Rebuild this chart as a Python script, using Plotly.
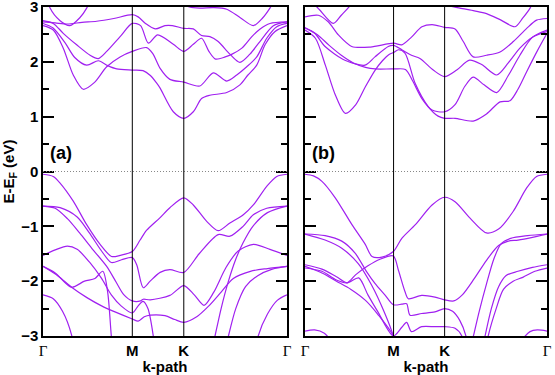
import plotly.graph_objects as go

# high-symmetry points along the path, as a fraction of the path length
k_points = [0.0, 0.366, 0.577, 1.0]
k_labels = ["Γ", "M", "K", "Γ"]

# panel (a) bands: (k, E - E_F) pairs
a_c1 = [(0, 2.66), (0.042, 2.58), (0.083, 2.25), (0.124, 1.76), (0.165, 1.50), (0.21, 1.62), (0.261, 1.91),
        (0.316, 2.09), (0.366, 2.19), (0.425, 2.26), (0.45, 2.15), (0.48, 1.88), (0.52, 1.68), (0.577, 1.63),
        (0.643, 1.56), (0.698, 1.80), (0.753, 1.65), (0.794, 1.76), (0.835, 1.91), (0.876, 2.09), (0.917, 2.43),
        (0.958, 2.64), (1.0, 2.70)]
a_c2 = [(0, 2.70), (0.04, 2.62), (0.09, 2.35), (0.13, 2.08), (0.179, 1.94), (0.227, 2.02), (0.265, 1.93),
        (0.302, 1.87), (0.366, 1.85), (0.41, 1.84), (0.44, 1.75), (0.466, 1.61), (0.48, 1.52), (0.534, 1.09),
        (0.577, 0.97), (0.616, 1.09), (0.65, 1.33), (0.684, 1.39), (0.753, 1.44), (0.807, 1.58), (0.84, 1.76),
        (0.876, 1.94), (0.91, 2.31), (0.95, 2.55), (1.0, 2.66)]
a_c3 = [(0, 2.75), (0.042, 2.70), (0.083, 2.52), (0.138, 2.31), (0.193, 2.12), (0.227, 2.06), (0.261, 2.19),
        (0.316, 2.46), (0.366, 2.70), (0.40, 2.66), (0.432, 2.34), (0.47, 2.49), (0.534, 2.32), (0.577, 2.19),
        (0.616, 2.32), (0.65, 2.43), (0.68, 2.19), (0.707, 2.05), (0.747, 2.09), (0.775, 2.14), (0.815, 2.25),
        (0.856, 2.46), (0.89, 2.60), (0.93, 2.70), (1.0, 2.73)]
a_c4 = [(0, 2.73), (0.05, 2.71), (0.10, 2.69), (0.16, 2.72), (0.22, 2.74), (0.29, 2.79), (0.366, 2.86),
        (0.39, 2.82), (0.42, 2.70), (0.46, 2.60), (0.50, 2.66), (0.53, 2.66), (0.577, 2.61), (0.616, 2.60),
        (0.65, 2.48), (0.684, 2.46), (0.718, 2.37), (0.766, 2.14), (0.807, 1.99), (0.848, 2.14), (0.889, 2.37),
        (0.944, 2.66), (1.0, 2.73)]
a_c5 = [(0.0, 3.5), (0.029, 2.98), (0.07, 2.75), (0.11, 2.66), (0.15, 2.80), (0.179, 2.98), (0.21, 3.3)]
a_c6 = [(0.55, 3.1), (0.60, 3.0), (0.643, 2.98), (0.70, 2.99), (0.753, 2.96), (0.81, 2.80), (0.862, 2.66),
        (0.90, 2.80), (0.93, 2.98), (0.97, 3.3)]

a_v1 = [(0, -0.05), (0.042, -0.09), (0.07, -0.21), (0.124, -0.54), (0.179, -0.97), (0.234, -1.33),
        (0.281, -1.55), (0.316, -1.53), (0.366, -1.46), (0.398, -1.25), (0.425, -1.07), (0.48, -0.84),
        (0.52, -0.66), (0.577, -0.48), (0.616, -0.61), (0.671, -0.91), (0.718, -1.08), (0.766, -0.94),
        (0.821, -0.79), (0.862, -0.61), (0.917, -0.27), (0.958, -0.09), (1.0, -0.05)]
a_v2 = [(0, -0.63), (0.07, -0.66), (0.14, -0.83), (0.19, -1.12), (0.24, -1.45), (0.28, -1.66), (0.322, -1.61),
        (0.366, -1.57), (0.384, -1.70), (0.411, -2.12), (0.439, -2.0), (0.48, -1.84), (0.52, -1.79),
        (0.577, -1.84), (0.64, -1.50), (0.718, -1.15), (0.766, -1.18), (0.82, -1.0), (0.862, -0.79),
        (0.917, -0.67), (1.0, -0.63)]
a_v3 = [(0, -0.63), (0.05, -0.67), (0.10, -0.86), (0.15, -1.12), (0.20, -1.40), (0.261, -1.73), (0.30, -2.02),
        (0.33, -2.24), (0.366, -2.36), (0.40, -2.36), (0.411, -2.33), (0.44, -2.34), (0.52, -2.26),
        (0.577, -2.08), (0.62, -2.25), (0.66, -2.44), (0.70, -2.2), (0.75, -1.75), (0.80, -1.45),
        (0.862, -1.33), (0.93, -1.42), (1.0, -1.53)]
a_v4 = [(0, -1.53), (0.05, -1.43), (0.10, -1.36), (0.14, -1.42), (0.19, -1.65), (0.24, -1.95), (0.28, -2.25),
        (0.32, -2.45), (0.366, -2.58), (0.39, -2.45), (0.41, -2.37), (0.43, -2.5), (0.452, -3.0), (0.46, -3.3)]
a_v5 = [(0, -1.73), (0.05, -1.85), (0.117, -2.11), (0.17, -2.0), (0.213, -1.95), (0.245, -1.82),
        (0.265, -2.2), (0.28, -3.0), (0.29, -3.4)]
a_v6 = [(0, -1.73), (0.06, -1.9), (0.12, -2.12), (0.18, -2.3), (0.24, -2.45), (0.30, -2.57), (0.366, -2.69),
        (0.39, -2.73), (0.415, -2.65), (0.44, -2.62), (0.50, -2.63), (0.54, -2.70), (0.577, -2.75),
        (0.63, -2.65), (0.68, -2.45), (0.73, -2.2), (0.78, -1.95), (0.85, -1.82), (0.92, -1.77), (1.0, -1.73)]
a_v7 = [(0, -2.25), (0.042, -2.32), (0.08, -2.55), (0.117, -2.98), (0.125, -3.2)]
a_v8 = [(0.69, -3.3), (0.705, -3.0), (0.73, -2.5), (0.76, -2.0), (0.79, -1.6), (0.82, -1.3), (0.86, -1.0),
        (0.92, -0.75), (1.0, -0.63)]
a_v9 = [(0.745, -3.3), (0.76, -3.0), (0.79, -2.5), (0.83, -2.1), (0.88, -1.9), (0.94, -1.78), (1.0, -1.73)]
a_v10 = [(0.87, -3.3), (0.882, -3.0), (0.92, -2.6), (0.96, -2.35), (1.0, -2.25)]

# panel (b) bands
b_c1 = [(0, 2.58), (0.043, 2.43), (0.084, 1.94), (0.125, 1.40), (0.167, 1.06), (0.21, 1.22), (0.25, 1.55),
        (0.29, 1.85), (0.32, 2.02), (0.346, 2.13), (0.366, 2.17), (0.386, 2.22), (0.413, 2.16), (0.455, 1.61),
        (0.51, 1.18), (0.55, 1.01), (0.577, 0.97), (0.62, 0.97), (0.695, 0.92), (0.75, 1.05), (0.806, 1.27),
        (0.847, 1.29), (0.88, 1.5), (0.916, 1.82), (0.96, 2.2), (1.0, 2.52)]
b_c2 = [(0, 2.62), (0.05, 2.50), (0.10, 2.30), (0.15, 2.12), (0.20, 1.98), (0.25, 1.90), (0.29, 1.87),
        (0.366, 1.87), (0.415, 1.86), (0.445, 1.65), (0.483, 1.33), (0.525, 1.12), (0.577, 1.09), (0.62, 1.22),
        (0.66, 1.55), (0.695, 1.72), (0.74, 1.58), (0.792, 1.44), (0.84, 1.75), (0.888, 2.12), (0.94, 2.45),
        (1.0, 2.58)]
b_c3 = [(0, 2.82), (0.055, 2.85), (0.096, 2.73), (0.138, 2.49), (0.193, 2.28), (0.27, 2.27), (0.366, 2.34),
        (0.40, 2.31), (0.44, 2.45), (0.483, 2.64), (0.525, 2.68), (0.577, 2.63), (0.62, 2.60), (0.654, 2.37),
        (0.695, 2.09), (0.75, 2.12), (0.806, 2.18), (0.861, 2.37), (0.916, 2.61), (0.957, 2.76), (1.0, 2.79)]
b_c4 = [(0, 2.62), (0.04, 2.52), (0.083, 2.28), (0.165, 2.03), (0.248, 1.94), (0.289, 2.09), (0.344, 2.28),
        (0.366, 2.30), (0.40, 2.22), (0.44, 2.12), (0.475, 2.06), (0.53, 1.85), (0.577, 1.73), (0.627, 1.85),
        (0.68, 2.03), (0.73, 1.95), (0.792, 1.76), (0.84, 1.98), (0.888, 2.25), (0.94, 2.45), (1.0, 2.55)]
b_c5 = [(0.0, 3.4), (0.03, 3.1), (0.06, 2.95), (0.117, 2.70), (0.15, 2.85), (0.19, 3.05), (0.21, 3.3)]
b_c6 = [(0.55, 3.2), (0.60, 3.02), (0.64, 2.98), (0.70, 2.93), (0.75, 2.88), (0.81, 2.76), (0.868, 2.64),
        (0.90, 2.80), (0.93, 2.98), (0.96, 3.3)]

b_v1 = [(0, -0.05), (0.035, -0.08), (0.07, -0.18), (0.125, -0.48), (0.194, -0.97), (0.249, -1.33),
        (0.277, -1.55), (0.318, -1.56), (0.365, -1.46), (0.40, -1.22), (0.456, -0.97), (0.525, -0.61),
        (0.577, -0.47), (0.62, -0.55), (0.682, -0.85), (0.75, -1.12), (0.80, -1.05), (0.86, -0.73),
        (0.916, -0.30), (0.957, -0.09), (1.0, -0.05)]
b_v2 = [(0, -1.14), (0.083, -1.17), (0.152, -1.27), (0.207, -1.49), (0.255, -1.83), (0.289, -2.04),
        (0.33, -2.25), (0.365, -2.43), (0.40, -2.42), (0.42, -2.41), (0.434, -2.62), (0.482, -2.59),
        (0.537, -2.56), (0.577, -2.50), (0.61, -2.55), (0.64, -2.72), (0.665, -3.0), (0.675, -3.3)]
b_v3 = [(0, -1.14), (0.083, -1.25), (0.152, -1.40), (0.22, -1.68), (0.275, -2.07), (0.33, -2.59),
        (0.365, -3.0), (0.38, -3.3)]
b_v4 = [(0, -1.70), (0.07, -1.78), (0.13, -1.92), (0.174, -2.03), (0.222, -1.94), (0.26, -2.25), (0.30, -2.55),
        (0.365, -3.0), (0.40, -2.84), (0.42, -2.75), (0.44, -2.92), (0.482, -2.83), (0.537, -2.83),
        (0.577, -2.83), (0.62, -2.86), (0.648, -3.0), (0.66, -3.3)]
b_v5 = [(0, -1.73), (0.07, -1.85), (0.13, -2.0), (0.19, -2.15), (0.25, -2.35), (0.30, -2.6), (0.365, -3.0),
        (0.38, -3.3)]
b_v6 = [(0, -1.76), (0.07, -1.82), (0.13, -1.98), (0.174, -2.03), (0.21, -1.88), (0.26, -1.72), (0.31, -1.60),
        (0.365, -1.54), (0.386, -1.80), (0.413, -2.19), (0.427, -2.32), (0.482, -2.26), (0.537, -2.29),
        (0.577, -2.34), (0.615, -2.36), (0.65, -2.25), (0.70, -1.95), (0.75, -1.62), (0.80, -1.35),
        (0.84, -1.27), (0.88, -1.25), (0.94, -1.20), (1.0, -1.14)]
b_v7 = [(0, -2.91), (0.04, -2.89), (0.08, -2.95), (0.11, -3.1)]
b_v8 = [(0.68, -3.3), (0.696, -3.0), (0.72, -2.55), (0.75, -2.05), (0.78, -1.6), (0.81, -1.32), (0.85, -1.22),
        (0.92, -1.17), (1.0, -1.14)]
b_v9 = [(0.73, -3.3), (0.744, -3.0), (0.77, -2.5), (0.80, -2.1), (0.83, -1.90), (0.88, -1.82), (0.94, -1.75),
        (1.0, -1.70)]
b_v10 = [(0.745, -3.3), (0.757, -3.0), (0.79, -2.5), (0.82, -2.15), (0.86, -2.0), (0.90, -1.93), (0.95, -1.82),
         (1.0, -1.76)]
b_v11 = [(0.89, -3.1), (0.93, -2.92), (0.96, -2.89), (1.0, -2.91)]

bands_a = [a_c1, a_c2, a_c3, a_c4, a_c5, a_c6, a_v1, a_v2, a_v3, a_v4, a_v5, a_v6, a_v7, a_v8, a_v9, a_v10]
bands_b = [b_c1, b_c2, b_c3, b_c4, b_c5, b_c6, b_v1, b_v2, b_v3, b_v4, b_v5, b_v6, b_v7, b_v8, b_v9, b_v10,
           b_v11]

BAND_COLOR = "#a020f0"
SANS = "Liberation Sans"

fig = go.Figure()

for bands, xa, ya in [(bands_a, "x", "y"), (bands_b, "x2", "y2")]:
    for band in bands:
        fig.add_trace(go.Scatter(
            x=[p[0] for p in band], y=[p[1] for p in band],
            mode="lines", line=dict(color=BAND_COLOR, width=1.2, shape="spline", smoothing=0.8),
            xaxis=xa, yaxis=ya, showlegend=False, hoverinfo="skip",
        ))

tick_text = ['<span style="font-family:Liberation Serif;font-weight:normal">Γ</span>' if t == "Γ" else t
             for t in k_labels]

params_x = dict(
    range=[0, 1], showgrid=False, zeroline=False, showline=True, linecolor="black", linewidth=1.5,
    mirror=True, ticks="", tickvals=k_points, ticktext=tick_text, automargin=False,
    tickfont=dict(family=SANS, size=15, color="black", weight="bold"),
    title=dict(text="<b>k-path</b>", font=dict(family=SANS, size=15, color="black"), standoff=0),
)
params_y = dict(
    range=[-3, 3], showgrid=False, zeroline=False, showline=True, linecolor="black", linewidth=1.5,
    mirror="ticks", ticks="inside", ticklen=11, tickwidth=1.5, tickcolor="black", automargin=False,
    tickvals=[-3, -2, -1, 0, 1, 2, 3], ticklabeloverflow="allow",
    minor=dict(ticks="inside", ticklen=6, tickwidth=1.5, tickcolor="black", dtick=0.5, showgrid=False),
    tickfont=dict(family=SANS, size=15, color="black", weight="bold"),
)

fig.update_layout(
    width=555, height=375, margin=dict(l=0, r=0, t=0, b=0),
    paper_bgcolor="white", plot_bgcolor="white",
    xaxis=dict(domain=[43 / 555, 287 / 555], anchor="y", **params_x),
    xaxis2=dict(domain=[305 / 555, 547 / 555], anchor="y2", **params_x),
    yaxis=dict(domain=[1 - 336 / 375, 1 - 7 / 375], anchor="x",
               title=dict(text="<b>E-E<sub>F</sub> (eV)</b>", font=dict(family=SANS, size=15, color="black"),
                          standoff=4),
               **params_y),
    yaxis2=dict(domain=[1 - 336 / 375, 1 - 7 / 375], anchor="x2", showticklabels=False, **params_y),
)

for xa, ya, label in [("x", "y", "(a)"), ("x2", "y2", "(b)")]:
    # Fermi level
    fig.add_shape(type="line", xref=f"{xa} domain", yref=ya, x0=0, x1=1, y0=0, y1=0,
                  line=dict(color="#888888", width=1, dash="1px,2px"))
    for kx in k_points[1:3]:
        fig.add_shape(type="line", xref=xa, yref=f"{ya} domain", x0=kx, x1=kx, y0=0, y1=1,
                      line=dict(color="black", width=1))
    fig.add_annotation(xref=xa, yref=ya, x=0.02, y=0.34, text=f"<b>{label}</b>", showarrow=False,
                       xanchor="left", yanchor="middle", font=dict(family=SANS, size=18, color="black"))

# drop the browser's default body margin so the figure sits at the page origin
fig.write_html("out.html", config={"displayModeBar": False},
               post_script="document.body.style.margin='0px';")
